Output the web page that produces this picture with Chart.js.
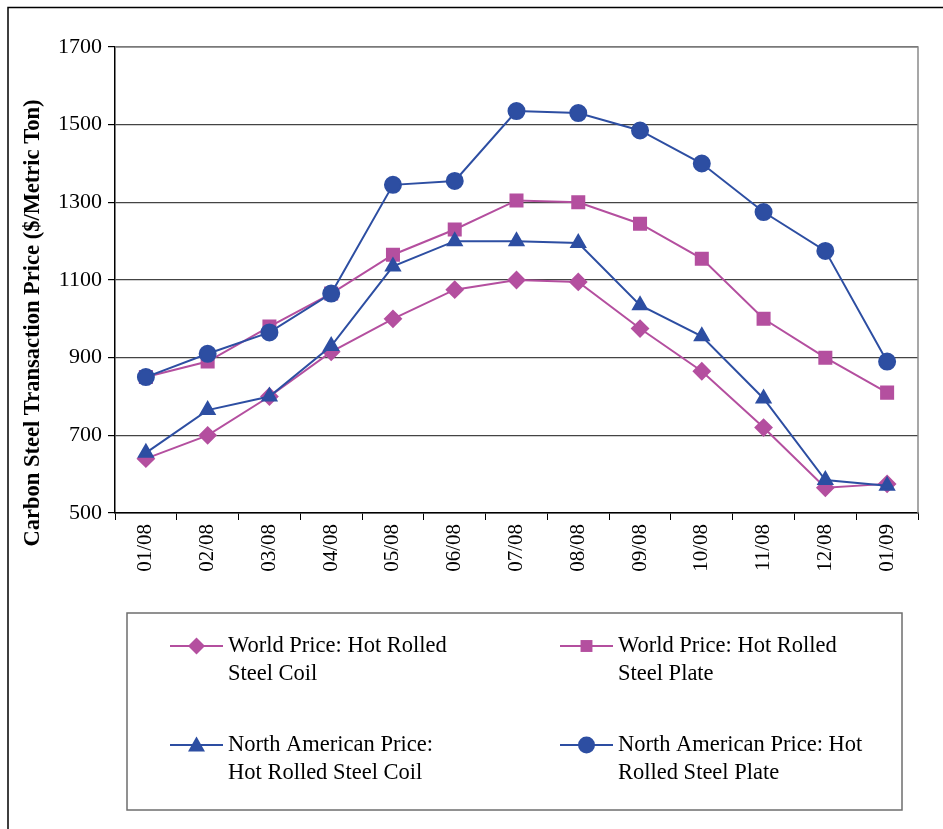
<!DOCTYPE html>
<html>
<head>
<meta charset="utf-8">
<script src="https://cdn.jsdelivr.net/npm/chart.js@4.4.1/dist/chart.umd.min.js"></script>
<style>
  html, body { margin: 0; padding: 0; background: #fff; }
  #wrap { width: 943px; height: 829px; }
</style>
</head>
<body>
<div id="wrap"><canvas id="steelChart" width="943" height="829"></canvas></div>
<script>
// categories and series values
const months = ['01/08', '02/08', '03/08', '04/08', '05/08', '06/08', '07/08',
                '08/08', '09/08', '10/08', '11/08', '12/08', '01/09'];
const worldCoil  = [640, 700, 800, 915, 1000, 1075, 1100, 1095, 975, 865, 720, 565, 575];
const worldPlate = [850, 890, 980, 1065, 1165, 1230, 1305, 1300, 1245, 1155, 1000, 900, 810];
const naCoil     = [655, 765, 800, 930, 1135, 1200, 1200, 1195, 1035, 955, 795, 585, 570];
const naPlate    = [850, 910, 965, 1065, 1345, 1355, 1535, 1530, 1485, 1400, 1275, 1175, 890];
const yTicks = [500, 700, 900, 1100, 1300, 1500, 1700];

const PINK = '#B44F9F';
const BLUE = '#2D4EA2';
const FONT = "'Liberation Serif', 'Times New Roman', serif";

const legendRows = [
  ['World Price: Hot Rolled', 'Steel Coil'],
  ['World Price: Hot Rolled', 'Steel Plate'],
  ['North American Price:', 'Hot Rolled Steel Coil'],
  ['North American Price: Hot', 'Rolled Steel Plate']
];

// draw one marker shape (used for the legend box)
function marker(ctx, style, x, y, r) {
  ctx.beginPath();
  if (style === 'circle') {
    ctx.arc(x, y, r, 0, Math.PI * 2);
  } else if (style === 'rect') {
    const s = r * 0.7;
    ctx.rect(x - s, y - s, s * 2, s * 2);
  } else if (style === 'rectRot') {
    ctx.moveTo(x, y - r); ctx.lineTo(x + r, y); ctx.lineTo(x, y + r); ctx.lineTo(x - r, y);
    ctx.closePath();
  } else if (style === 'triangle') {
    ctx.moveTo(x, y - r); ctx.lineTo(x + r, y + r * 0.75); ctx.lineTo(x - r, y + r * 0.75);
    ctx.closePath();
  }
  ctx.fill();
}

const decor = {
  id: 'decor',
  beforeDraw(chart) {
    const ctx = chart.ctx;
    ctx.save();
    // outer frame (top + left only, the rest is cropped)
    ctx.strokeStyle = '#000';
    ctx.lineWidth = 1.5;
    ctx.beginPath();
    ctx.moveTo(8, 829); ctx.lineTo(8, 7.5); ctx.lineTo(943, 7.5);
    ctx.stroke();
    ctx.restore();
  },
  beforeDatasetsDraw(chart) {
    const { ctx, chartArea: a } = chart;
    ctx.save();
    ctx.strokeStyle = '#8a8a8a';
    ctx.lineWidth = 1.5;
    ctx.beginPath();
    ctx.moveTo(a.left, a.top); ctx.lineTo(a.right, a.top); ctx.lineTo(a.right, a.bottom);
    ctx.stroke();
    ctx.restore();
  },
  afterDraw(chart) {
    const ctx = chart.ctx;
    ctx.save();
    // y axis title
    ctx.translate(33, 323);
    ctx.rotate(-Math.PI / 2);
    ctx.font = 'bold 22.5px ' + FONT;
    ctx.fillStyle = '#000';
    ctx.textAlign = 'center';
    ctx.textBaseline = 'middle';
    ctx.fillText('Carbon Steel Transaction Price ($/Metric Ton)', 0, 0);
    ctx.restore();

    // legend box
    ctx.save();
    ctx.strokeStyle = '#6e6e6e';
    ctx.lineWidth = 1.5;
    ctx.strokeRect(127, 613, 775, 197);
    const pos = [[170, 646], [560, 646], [170, 745], [560, 745]];
    chart.data.datasets.forEach((ds, i) => {
      const [x, y] = pos[i];
      ctx.strokeStyle = ds.borderColor;
      ctx.fillStyle = ds.backgroundColor;
      ctx.lineWidth = 2;
      ctx.beginPath();
      ctx.moveTo(x, y); ctx.lineTo(x + 53, y);
      ctx.stroke();
      marker(ctx, ds.pointStyle, x + 26.5, y, 8.5);
      ctx.fillStyle = '#000';
      ctx.font = '22.5px ' + FONT;
      ctx.textAlign = 'left';
      ctx.textBaseline = 'middle';
      ctx.fillText(legendRows[i][0], x + 58, y);
      ctx.fillText(legendRows[i][1], x + 58, y + 28);
    });
    ctx.restore();
  }
};

function series(label, data, color, style, radius, order) {
  return {
    label: label,
    data: data,
    borderColor: color,
    backgroundColor: color,
    pointBackgroundColor: color,
    pointBorderColor: color,
    pointStyle: style,
    pointRadius: radius,
    pointHoverRadius: radius,
    borderWidth: 2,
    tension: 0,
    order: order
  };
}

new Chart(document.getElementById('steelChart'), {
  type: 'line',
  data: {
    labels: months,
    datasets: [
      series('World Price: Hot Rolled Steel Coil', worldCoil, PINK, 'rectRot', 8, 4),
      series('World Price: Hot Rolled Steel Plate', worldPlate, PINK, 'rect', 8.5, 3),
      series('North American Price: Hot Rolled Steel Coil', naCoil, BLUE, 'triangle', 8, 2),
      series('North American Price: Hot Rolled Steel Plate', naPlate, BLUE, 'circle', 8, 1)
    ]
  },
  options: {
    responsive: false,
    animation: false,
    layout: { padding: { top: 47, right: 25, left: 0, bottom: 0 } },
    plugins: {
      legend: { display: false },
      tooltip: { enabled: false }
    },
    scales: {
      x: {
        offset: true,
        afterFit: (s) => { s.height = 316; },
        grid: {
          offset: true,
          drawOnChartArea: false,
          tickLength: 7,
          color: '#000'
        },
        border: { color: '#000', width: 1.5 },
        ticks: {
          maxRotation: 90,
          minRotation: 90,
          padding: 4,
          color: '#000',
          font: { family: FONT, size: 21 }
        }
      },
      y: {
        min: 500,
        max: 1700,
        afterFit: (s) => { s.width = 115; },
        afterBuildTicks: (s) => { s.ticks = yTicks.map(v => ({ value: v })); },
        grid: {
          color: '#444',
          lineWidth: 1.2,
          tickLength: 7,
          tickColor: '#000'
        },
        border: { color: '#000', width: 1.5 },
        ticks: {
          padding: 6,
          color: '#000',
          font: { family: FONT, size: 22 },
          callback: (v) => String(v)
        }
      }
    }
  },
  plugins: [decor]
});
</script>
</body>
</html>
